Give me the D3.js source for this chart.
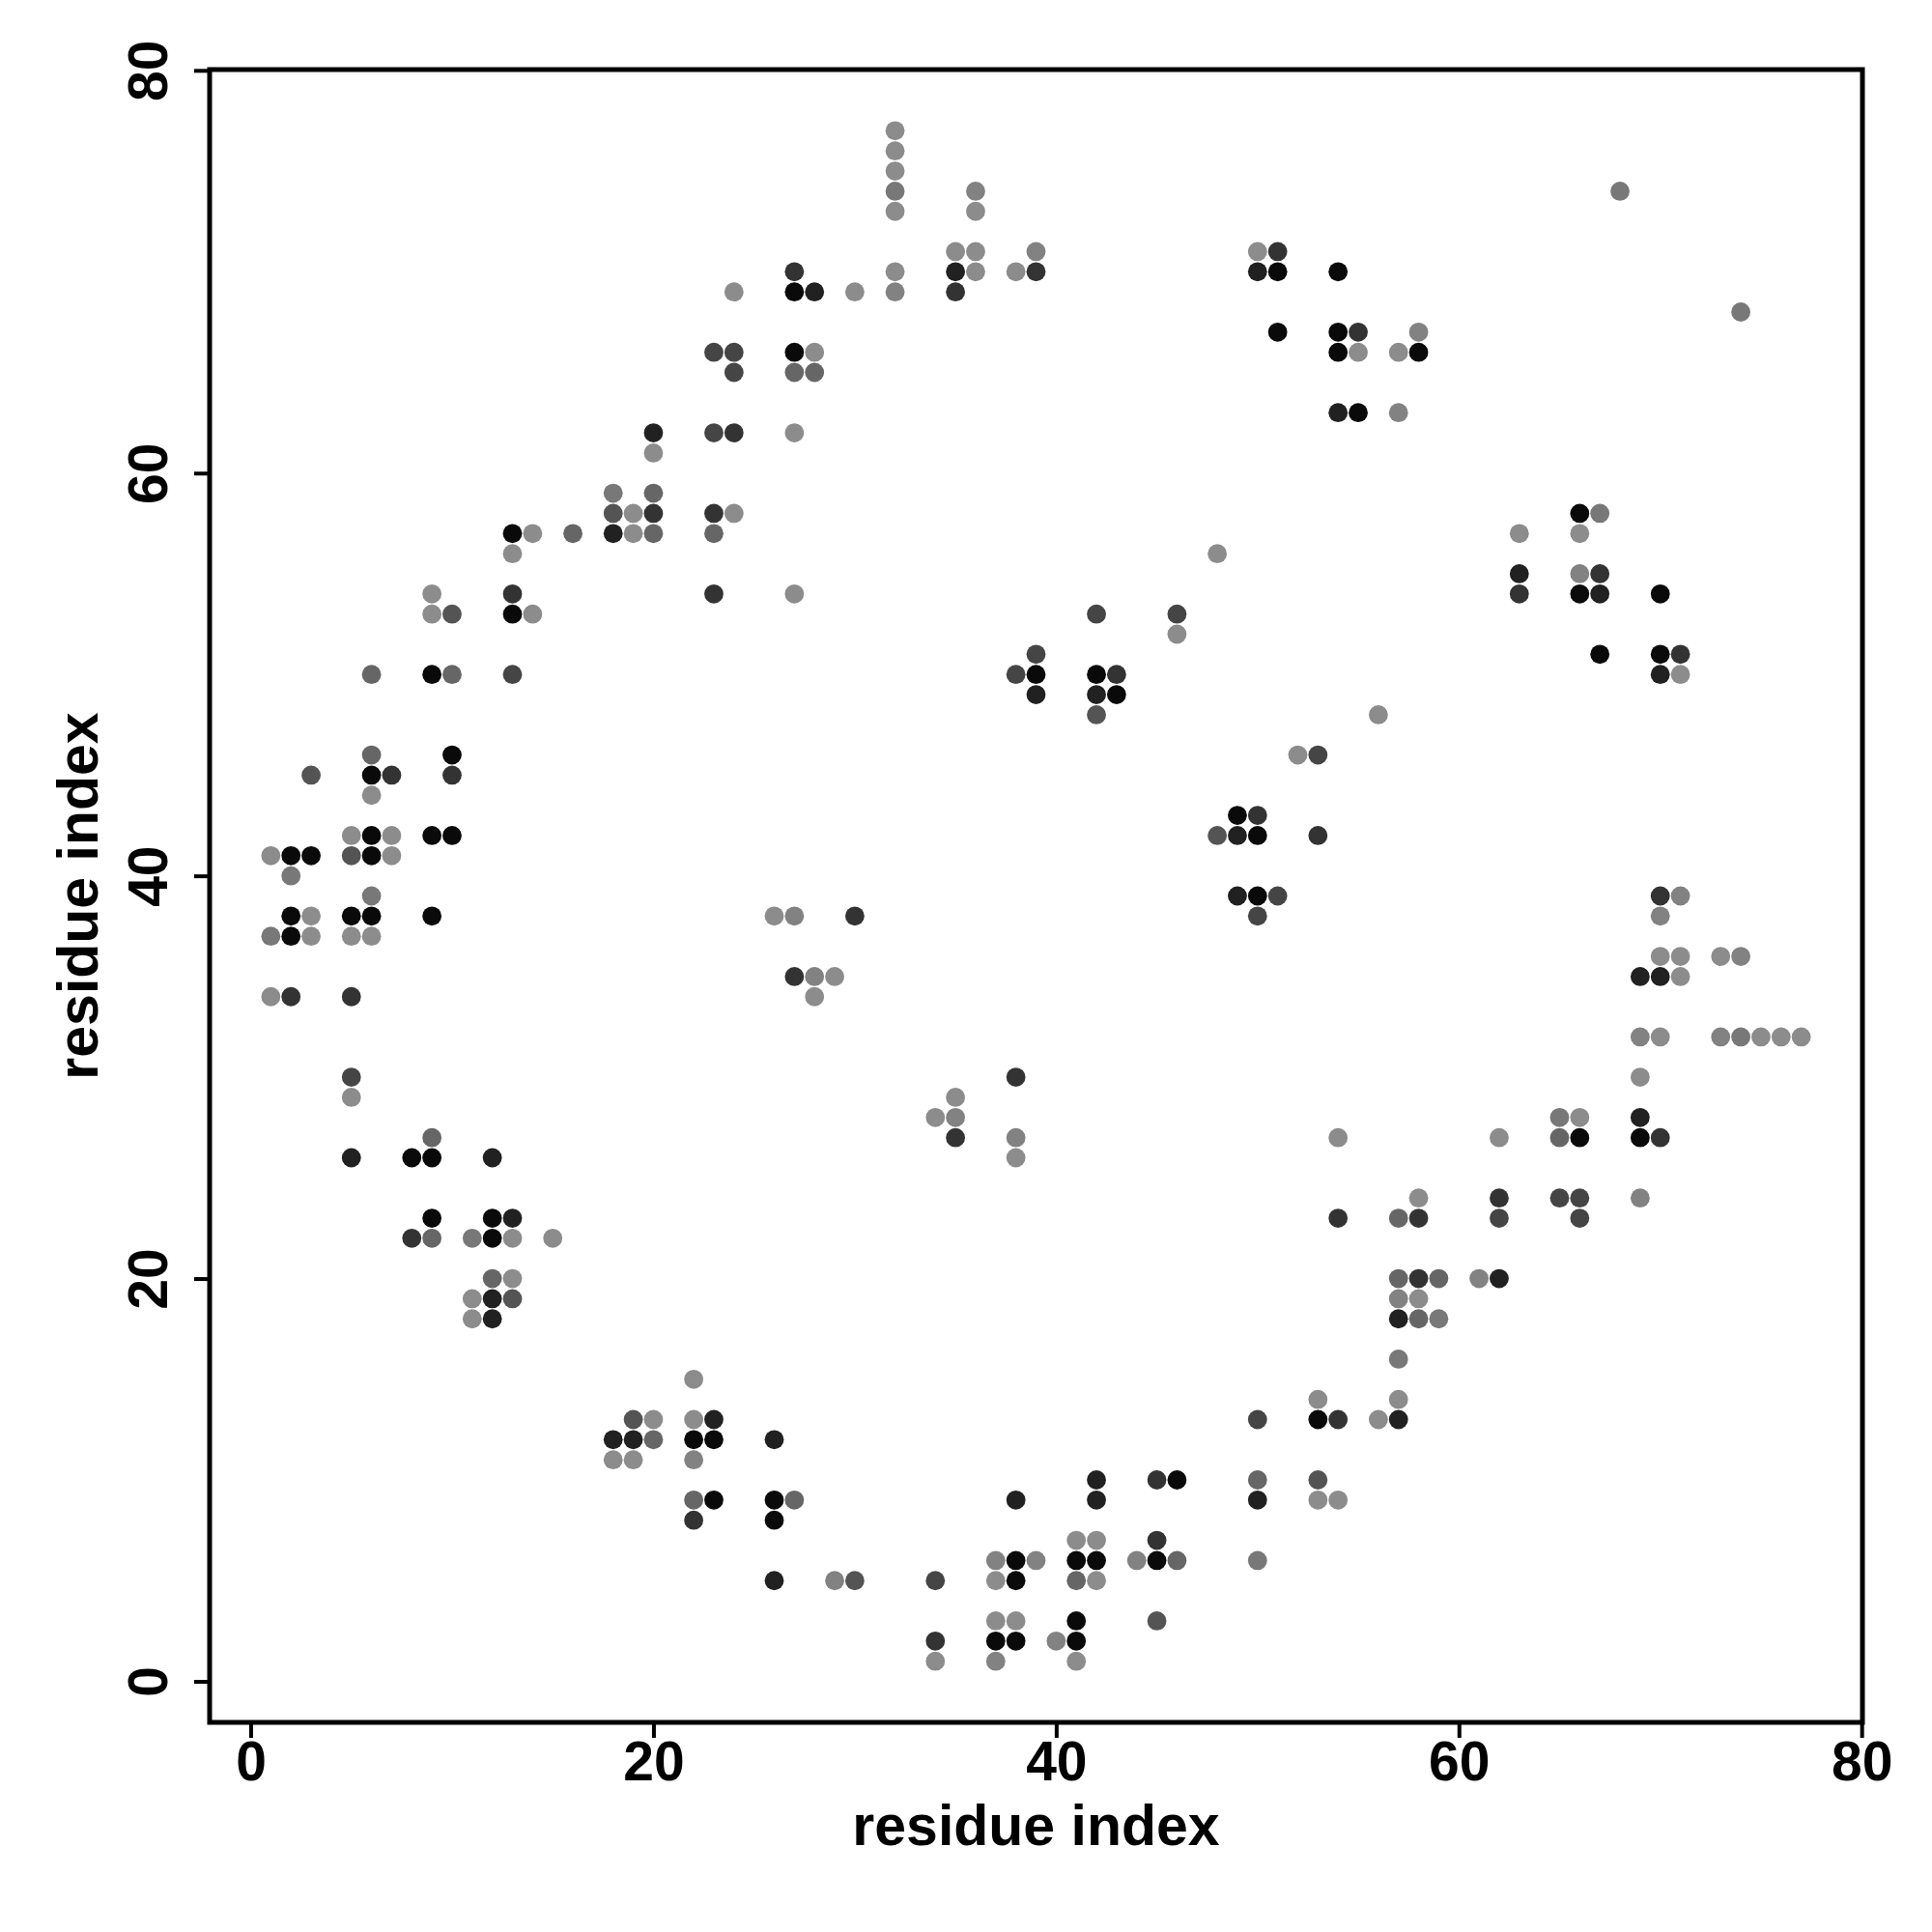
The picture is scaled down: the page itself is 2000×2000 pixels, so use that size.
<!DOCTYPE html>
<html>
<head>
<meta charset="utf-8">
<script src="https://cdn.jsdelivr.net/npm/d3@7"></script>
<style>
  body { margin: 0; background: #fff; }
  text { font-family: "Liberation Sans", Arial, Helvetica, sans-serif; font-weight: bold; }
</style>
</head>
<body>
<div id="chart"></div>
<script>
// contact map: residue i, residue j, contact probability (grey level)
var resI = [
  1,2,3,2,2,3,1,2,3,1,
  2,3,5,6,7,5,6,7,6,5,
  6,5,6,5,5,5,6,6,7,6,
  6,9,10,13,9,9,10,13,13,14,
  10,10,9,10,9,13,14,16,13,18,
  20,18,19,20,18,19,20,20,20,9,
  5,8,9,12,9,8,9,12,13,11,
  12,13,15,12,13,11,12,13,11,12,
  19,20,18,19,20,18,19,32,32,32,
  32,32,36,36,35,36,39,35,36,38,
  39,35,32,32,30,27,27,28,24,23,
  24,24,27,28,27,28,23,24,27,23,
  24,23,23,27,50,51,50,51,54,51,
  54,55,58,54,55,57,58,54,55,57,
  48,42,46,46,68,74,66,67,63,66,
  63,66,67,63,66,67,70,39,38,39,
  39,42,43,42,43,42,56,52,53,49,
  50,48,49,50,53,49,50,51,50,26,
  27,30,27,28,29,28,38,35,34,35,
  35,38,38,54,67,70,71,70,71,70,
  71,70,70,71,73,74,69,70,71,69,
  70,73,74,75,76,77,69,65,66,69,
  62,65,66,69,70,62,62,65,66,66,
  69,59,61,62,59,54,57,58,58,57,
  58,57,58,57,58,57,53,57,50,53,
  54,56,57,42,42,45,46,50,50,53,
  53,54,22,22,23,22,23,22,26,22,
  23,22,26,27,26,38,26,29,30,34,
  37,38,39,37,38,34,34,37,38,37,
  38,40,37,41,42,41,42,44,45,46,
  41,42,45,50,45,41,41,41
];
var resJ = [
  41,41,41,40,38,38,37,37,37,34,
  34,45,42,42,42,41,41,41,39,38,
  38,37,37,34,30,29,46,45,45,44,
  50,50,50,50,54,53,53,54,53,53,
  46,45,42,42,38,57,57,57,56,59,
  59,58,58,58,57,57,57,62,61,27,
  26,26,26,26,23,22,22,23,23,22,
  22,22,22,20,20,19,19,19,18,18,
  13,13,12,12,12,11,11,77,76,75,
  74,73,74,73,71,71,71,70,70,70,
  70,69,70,69,69,70,69,69,69,66,
  66,65,66,66,65,65,62,62,62,58,
  58,57,54,54,71,71,70,70,70,67,
  67,67,67,66,66,66,66,63,63,63,
  56,53,53,52,74,68,58,58,57,57,
  55,55,55,54,54,54,54,51,50,50,
  49,50,50,49,49,48,48,46,46,43,
  43,42,42,42,42,39,39,39,38,38,
  38,38,35,35,35,34,30,29,28,28,
  27,27,26,27,51,51,51,50,50,39,
  39,38,36,36,36,36,35,35,35,32,
  32,32,32,32,32,32,30,28,28,28,
  27,27,27,27,27,24,23,24,24,23,
  24,20,20,20,18,23,23,23,24,20,
  20,19,19,18,18,16,14,14,13,13,
  13,13,13,10,9,10,10,10,9,10,
  9,9,15,13,13,12,12,11,12,9,
  9,8,9,9,8,9,5,5,5,5,
  6,6,6,5,5,2,1,3,3,2,
  2,2,1,7,7,6,6,6,6,6,
  5,5,7,6,3,3,2,1
];
var prob = [
  .45,.96,.96,.53,.96,.45,.53,.96,.45,.45,
  .80,.67,.45,.96,.45,.67,.96,.45,.53,.96,
  .96,.45,.45,.80,.73,.45,.60,.96,.80,.45,
  .60,.96,.60,.73,.45,.45,.67,.80,.96,.45,
  .96,.80,.96,.96,.96,.96,.45,.60,.45,.53,
  .60,.67,.45,.80,.87,.45,.60,.87,.45,.60,
  .87,.96,.96,.87,.96,.80,.60,.96,.87,.53,
  .96,.45,.45,.60,.45,.45,.87,.67,.45,.87,
  .67,.45,.87,.87,.60,.45,.45,.45,.45,.45,
  .53,.45,.49,.45,.45,.45,.49,.87,.45,.45,
  .80,.80,.45,.49,.45,.80,.96,.87,.45,.73,
  .73,.73,.96,.45,.60,.60,.73,.80,.45,.80,
  .45,.60,.80,.45,.45,.80,.87,.96,.96,.96,
  .96,.80,.49,.96,.45,.45,.96,.87,.96,.49,
  .45,.73,.73,.45,.53,.53,.96,.53,.45,.45,
  .87,.49,.80,.80,.96,.87,.96,.73,.73,.96,
  .87,.96,.80,.87,.96,.67,.45,.45,.73,.96,
  .80,.67,.87,.96,.80,.87,.96,.73,.73,.45,
  .49,.80,.80,.49,.45,.45,.80,.45,.45,.49,
  .80,.49,.45,.45,.96,.96,.80,.87,.45,.80,
  .49,.49,.45,.45,.45,.49,.87,.87,.45,.49,
  .45,.49,.53,.45,.45,.45,.45,.53,.45,.87,
  .45,.60,.96,.96,.80,.80,.73,.73,.73,.73,
  .49,.60,.49,.87,.53,.80,.60,.80,.45,.60,
  .80,.49,.45,.87,.60,.53,.45,.45,.73,.96,
  .80,.45,.87,.87,.87,.80,.96,.60,.87,.67,
  .45,.45,.45,.45,.87,.96,.96,.49,.87,.60,
  .96,.80,.96,.60,.96,.87,.87,.49,.67,.73,
  .49,.96,.49,.45,.96,.80,.45,.45,.45,.96,
  .96,.49,.49,.45,.45,.96,.96,.49,.96,.60,
  .60,.45,.80,.53,.67,.96,.96,.45
];
var xTicks = [0, 20, 40, 60, 80];
var yTicks = [0, 20, 40, 60, 80];
var xLabel = "residue index";
var yLabel = "residue index";

var W = 2000, H = 2000;
var plotL = 217, plotR = 1928, plotT = 72, plotB = 1783;

var svg = d3.select("#chart").append("svg")
    .attr("width", W)
    .attr("height", H);

// R-style axis range: data range padded by 4%
var ext = d3.extent(resI.concat(resJ));
var pad = (ext[1] - ext[0]) * 0.04;
var x = d3.scaleLinear().domain([ext[0] - pad, ext[1] + pad]).range([plotL, plotR]);
var y = d3.scaleLinear().domain([ext[0] - pad, ext[1] + pad]).range([plotB, plotT]);
var grey = d3.scaleLinear().domain([0, 1]).range(["#ffffff", "#000000"]);

svg.selectAll(".contact")
    .data(resI)
    .enter()
    .append("circle")
    .attr("class", "contact")
    .attr("cx", function(d){ return x(d); })
    .attr("cy", function(d, i){ return y(resJ[i]); })
    .attr("r", 9.9)
    .attr("fill", function(d, i){ return grey(prob[i]); });

// box
svg.append("rect")
    .attr("x", plotL)
    .attr("y", plotT)
    .attr("width", plotR - plotL)
    .attr("height", plotB - plotT)
    .attr("fill", "none")
    .attr("stroke", "#000")
    .attr("stroke-width", 5);

var gx = svg.append("g")
    .attr("transform", "translate(0," + plotB + ")")
    .call(d3.axisBottom(x).tickValues(xTicks).tickSize(16).tickPadding(4).tickFormat(d3.format("d")));
gx.select(".domain").remove();
gx.selectAll(".tick line").attr("stroke", "#000").attr("stroke-width", 4);
gx.selectAll(".tick text")
    .attr("fill", "#000")
    .attr("font-size", "57px")
    .attr("font-family", "Liberation Sans, Arial, sans-serif")
    .attr("font-weight", "bold");

var gy = svg.append("g")
    .attr("transform", "translate(" + plotL + ",0)")
    .call(d3.axisLeft(y).tickValues(yTicks).tickSize(16).tickFormat(d3.format("d")));
gy.select(".domain").remove();
gy.selectAll(".tick line").attr("stroke", "#000").attr("stroke-width", 4);
gy.selectAll(".tick text")
    .attr("fill", "#000")
    .attr("x", 0)
    .attr("dy", 0)
    .attr("text-anchor", "middle")
    .attr("transform", "translate(-44,0) rotate(-90)")
    .attr("font-size", "57px")
    .attr("font-family", "Liberation Sans, Arial, sans-serif")
    .attr("font-weight", "bold");

svg.append("text")
    .text(xLabel)
    .attr("x", (plotL + plotR) / 2)
    .attr("y", 1910)
    .attr("text-anchor", "middle")
    .attr("font-size", "59px");

svg.append("text")
    .text(yLabel)
    .attr("transform", "translate(101," + (plotT + plotB) / 2 + ") rotate(-90)")
    .attr("text-anchor", "middle")
    .attr("font-size", "59px");
</script>
</body>
</html>
